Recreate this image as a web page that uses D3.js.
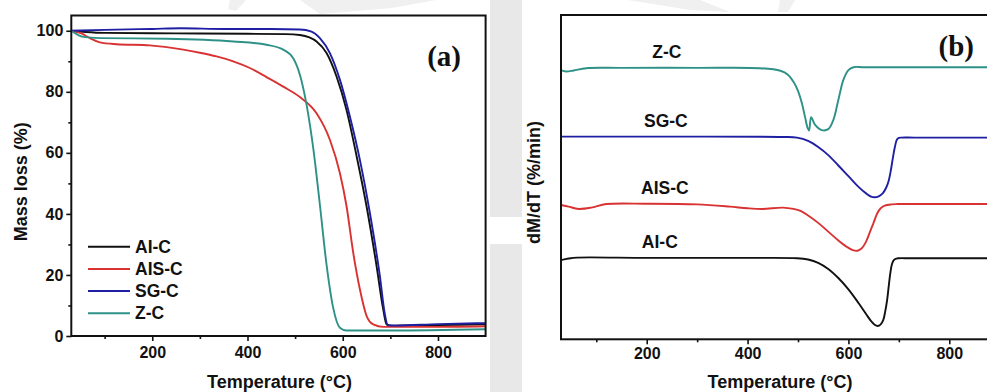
<!DOCTYPE html>
<html>
<head>
<meta charset="utf-8">
<script src="https://cdn.jsdelivr.net/npm/d3@7"></script>
<style>
  body { margin: 0; background: #fff; }
  svg { display: block; }
  text { font-family: "Liberation Sans", Arial, sans-serif; font-weight: bold; fill: #111; }
</style>
</head>
<body>
<svg id="fig" width="987" height="392"></svg>
<script>
// ---- data ----
const sampleNames = ["AI-C", "AIS-C", "SG-C", "Z-C"];
const majorTempTicks = [200, 400, 600, 800];
const minorTempTicks = [100, 300, 500, 700];
const majorMassTicks = [0, 20, 40, 60, 80, 100];
const minorMassTicks = [10, 30, 50, 70, 90];

// TGA: temperature (°C), residual mass (%)
const tgaAIC = [[30,100],[60,99.6],[100,99.3],[200,99.2],[300,99.1],[400,99.0],[480,98.9],[510,98.6],[530,97.8],[545,96.5],[566,92.7],[587,85],[608,74],[629,59],[650,42.5],[671,23],[685,8.7],[692,3.8],[700,3.4],[800,3.6],[900,3.8]];
const tgaAISC = [[30,100],[50,99.2],[69,97.6],[90,96.2],[125,95.6],[195,95.2],[265,93.8],[300,92.8],[335,91.6],[370,90.0],[405,87.8],[440,84.8],[475,81.7],[510,78.3],[545,73],[573,64.3],[594,53.4],[608,42.5],[622,27.3],[636,15.3],[650,6.6],[664,3.8],[685,3.0],[800,3.0],[900,3.2]];
const tgaSGC = [[30,100],[100,100.3],[200,100.6],[260,100.8],[350,100.6],[450,100.6],[510,100.4],[533,99.8],[552,97.6],[573,92.7],[594,84],[615,71.9],[636,57.7],[657,40.3],[678,19.6],[688,7.6],[695,3.5],[710,3.4],[800,3.9],[900,4.2]];
const tgaZC = [[30,100],[55,98],[90,97.6],[230,97.4],[370,96.5],[440,95.4],[475,93.8],[496,91],[510,85.6],[524,75.8],[538,61.6],[552,43],[566,23.4],[580,9.2],[594,2.7],[608,1.8],[700,1.8],[900,2.2]];

// DTG: temperature (°C), dM/dT in arbitrary units, curves stacked
const dtgAIC = [[30,24.4],[45,24.9],[62,25.2],[200,25.1],[400,25.1],[498,25.0],[520,24.6],[540,23.6],[560,21.7],[580,18.9],[600,15.4],[620,11.2],[635,7.8],[645,5.6],[652,4.5],[658,4.1],[664,4.6],[669,5.9],[673,8.6],[677,12.4],[680,16.5],[683,20.3],[686,23.0],[690,24.4],[695,24.9],[700,25.0],[720,25.0],[800,25.0],[900,25.0]];
const dtgAISC = [[30,41.4],[45,40.9],[65,40.2],[90,40.6],[120,41.7],[200,41.8],[300,41.6],[365,40.9],[400,40.4],[430,40.2],[470,40.6],[491,40.2],[505,39.6],[520,38.2],[540,35.9],[560,33.2],[580,30.5],[598,28.4],[610,27.4],[618,27.3],[626,28.0],[634,29.8],[642,32.8],[650,36.0],[657,38.8],[664,40.4],[672,41.2],[685,41.6],[697,41.7],[720,41.7],[800,41.7],[900,41.7]];
const dtgSGC = [[30,62.5],[200,62.5],[470,62.4],[498,62.2],[520,61.2],[540,59.3],[560,56.8],[580,53.6],[600,50.3],[620,47.0],[635,45.0],[645,44.0],[652,43.8],[660,44.1],[668,45.0],[675,46.8],[680,49.0],[684,52.0],[688,55.8],[692,59.2],[696,61.5],[700,62.1],[705,62.2],[730,62.2],[800,62.2],[900,62.2]];
const dtgZC = [[30,83.0],[40,82.6],[55,82.9],[80,83.6],[150,83.7],[300,83.7],[425,83.6],[465,82.8],[480,81.6],[491,79.4],[500,76.6],[508,72.6],[514,68.5],[519,65.2],[522,64.4],[526,68.5],[534,66.1],[547,64.5],[560,64.8],[570,67.6],[580,73.8],[590,80.0],[600,83.0],[610,83.9],[630,83.9],[700,83.9],[800,83.9],[900,83.9]];

const colors = { "AI-C": "#111111", "AIS-C": "#d93232", "SG-C": "#1f1fa3", "Z-C": "#2e9187" };
const tgaSeries = [["AI-C", tgaAIC], ["AIS-C", tgaAISC], ["SG-C", tgaSGC], ["Z-C", tgaZC]];
const dtgSeries = [["Z-C", dtgZC], ["SG-C", dtgSGC], ["AIS-C", dtgAISC], ["AI-C", dtgAIC]];

const svg = d3.select("#fig");

// ---- faint background shapes ----
const bg = svg.append("g").attr("fill", "#e8e8e8");
bg.append("rect").attr("x", 490).attr("y", 0).attr("width", 32).attr("height", 217);
bg.append("rect").attr("x", 490).attr("y", 244).attr("width", 32).attr("height", 148);
const wm = svg.append("g").attr("fill", "#f0f0f0");
wm.append("path").attr("d", "M230,0 L246,0 L236,11 L228,9 Z");
wm.append("path").attr("d", "M300,0 L436,0 L392,8 L320,14 Z");
wm.append("path").attr("d", "M628,0 L700,0 L730,12 L690,10 Z");
wm.append("path").attr("d", "M780,0 L795,0 L788,12 L778,12 Z");

// ---- panel (a): TGA ----
const xA = d3.scaleLinear().domain([30, 900]).range([71.3, 485.6]);
const yA = d3.scaleLinear().domain([0, 105]).range([336, 15.5]);
const gA = svg.append("g");

const lineA = d3.line().x(d => xA(d[0])).y(d => yA(d[1])).curve(d3.curveMonotoneX);
gA.selectAll("path.tga").data(tgaSeries).join("path")
  .attr("class", "tga")
  .attr("d", d => lineA(d[1]))
  .attr("fill", "none")
  .attr("stroke", d => colors[d[0]])
  .attr("stroke-width", 1.9);

gA.append("rect")
  .attr("x", xA(30)).attr("y", yA(105))
  .attr("width", xA(900) - xA(30)).attr("height", yA(0) - yA(105))
  .attr("fill", "none").attr("stroke", "#111").attr("stroke-width", 2);

function styleAxis(g, fontSize) {
  g.select(".domain").remove();
  g.selectAll(".tick line").attr("stroke", "#111").attr("stroke-width", 1.6);
  g.selectAll(".tick text").style("font-size", fontSize + "px").attr("fill", "#111")
    .style("font-family", '"Liberation Sans", Arial, sans-serif').style("font-weight", "bold");
}

gA.append("g").attr("transform", `translate(0,${yA(0)})`)
  .call(d3.axisBottom(xA).tickValues(majorTempTicks).tickSize(5).tickPadding(6).tickFormat(d3.format("d")))
  .call(g => styleAxis(g, 16));
gA.append("g").attr("transform", `translate(0,${yA(0)})`)
  .call(d3.axisBottom(xA).tickValues(minorTempTicks).tickSize(3).tickFormat(""))
  .call(g => styleAxis(g, 16));
gA.append("g").attr("transform", `translate(${xA(30)},0)`)
  .call(d3.axisLeft(yA).tickValues(majorMassTicks).tickSize(5).tickPadding(3).tickFormat(d3.format("d")))
  .call(g => styleAxis(g, 16));
gA.append("g").attr("transform", `translate(${xA(30)},0)`)
  .call(d3.axisLeft(yA).tickValues(minorMassTicks).tickSize(3).tickFormat(""))
  .call(g => styleAxis(g, 16));

gA.append("text").attr("x", 279.5).attr("y", 381.7).attr("dy", "0.35em")
  .attr("text-anchor", "middle").style("font-size", "18px").text("Temperature (°C)");
gA.append("text").attr("transform", "translate(20.5,181.7) rotate(-90)").attr("dy", "0.35em")
  .attr("text-anchor", "middle").style("font-size", "18px").text("Mass loss (%)");
gA.append("text").attr("x", 461).attr("y", 56).attr("dy", "0.33em").attr("text-anchor", "end")
  .style("font-family", '"Liberation Serif", "Times New Roman", serif').style("font-size", "29px")
  .text("(a)");

// legend
const legend = gA.append("g");
sampleNames.forEach((name, i) => {
  const cy = 246.7 + i * 22.2;
  legend.append("line").attr("x1", 88).attr("x2", 130).attr("y1", cy).attr("y2", cy)
    .attr("stroke", colors[name]).attr("stroke-width", 2);
  legend.append("text").attr("x", 135).attr("y", cy).attr("dy", "0.35em")
    .style("font-size", "17.5px").text(name);
});

// ---- panel (b): DTG ----
const xB = d3.scaleLinear().domain([30, 900]).range([561, 999.7]);
const yB = d3.scaleLinear().domain([0, 100]).range([339.3, 15]);
const gB = svg.append("g");

const lineB = d3.line().x(d => xB(d[0])).y(d => yB(d[1])).curve(d3.curveCatmullRom.alpha(0.5));
gB.selectAll("path.dtg").data(dtgSeries).join("path")
  .attr("class", "dtg")
  .attr("d", d => lineB(d[1]))
  .attr("fill", "none")
  .attr("stroke", d => colors[d[0]])
  .attr("stroke-width", 1.9);

// series names sit just above each plateau
const labelTemps = { "Z-C": 240, "SG-C": 238, "AIS-C": 236, "AI-C": 226 };
gB.selectAll("text.series").data(dtgSeries).join("text")
  .attr("class", "series")
  .attr("x", d => xB(labelTemps[d[0]]))
  .attr("y", d => yB(d[1].find(p => p[0] >= 200)[1]) - 16)
  .attr("dy", "0.35em").attr("text-anchor", "middle")
  .style("font-size", "17.5px").text(d => d[0]);

gB.append("rect")
  .attr("x", xB(30)).attr("y", yB(100))
  .attr("width", xB(900) - xB(30)).attr("height", yB(0) - yB(100))
  .attr("fill", "none").attr("stroke", "#111").attr("stroke-width", 2);

gB.append("g").attr("transform", `translate(0,${yB(0)})`)
  .call(d3.axisBottom(xB).tickValues(majorTempTicks).tickSize(5).tickPadding(3).tickFormat(d3.format("d")))
  .call(g => styleAxis(g, 16));
gB.append("g").attr("transform", `translate(0,${yB(0)})`)
  .call(d3.axisBottom(xB).tickValues(minorTempTicks).tickSize(3).tickFormat(""))
  .call(g => styleAxis(g, 16));

gB.append("text").attr("x", 780).attr("y", 381.7).attr("dy", "0.35em")
  .attr("text-anchor", "middle").style("font-size", "18px").text("Temperature (°C)");
gB.append("text").attr("transform", "translate(534,182.5) rotate(-90)").attr("dy", "0.35em")
  .attr("text-anchor", "middle").style("font-size", "18px").text("dM/dT (%/min)");
gB.append("text").attr("x", 974).attr("y", 46).attr("dy", "0.33em").attr("text-anchor", "end")
  .style("font-family", '"Liberation Serif", "Times New Roman", serif').style("font-size", "29px")
  .text("(b)");
</script>
</body>
</html>
